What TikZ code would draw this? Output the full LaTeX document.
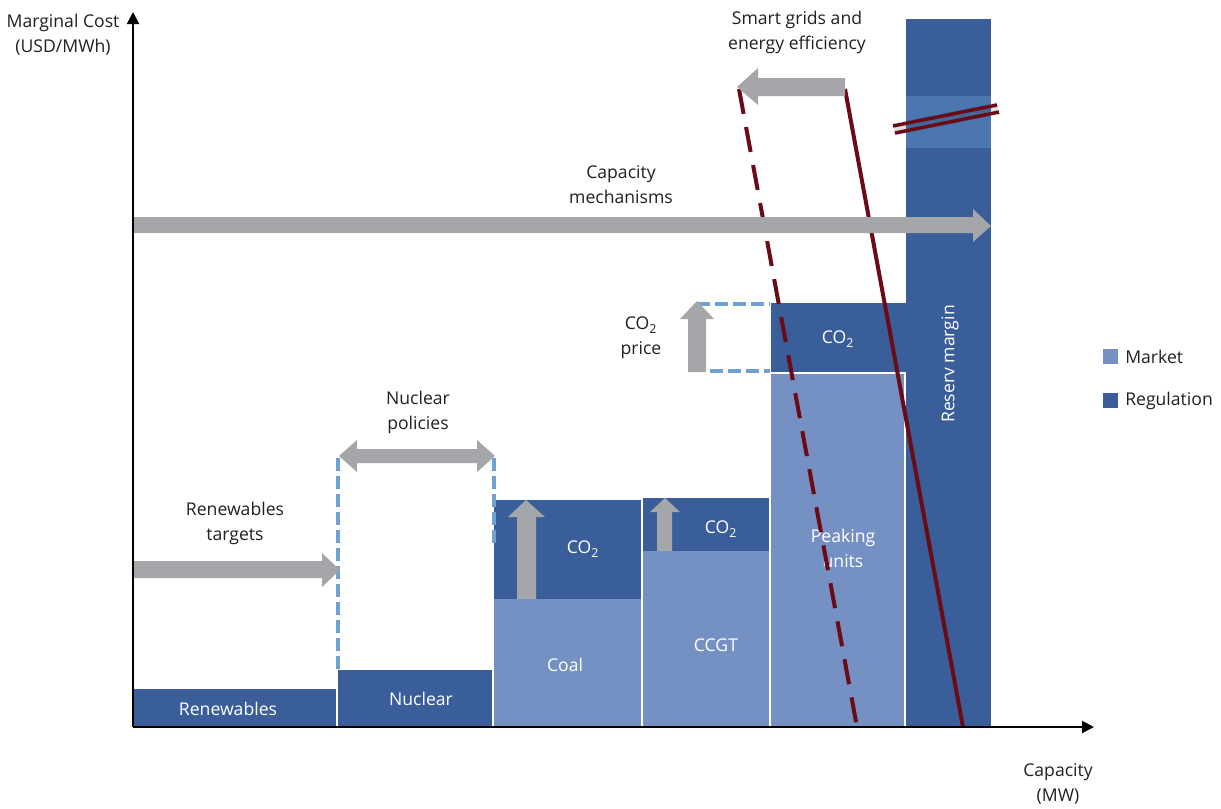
\documentclass[tikz,border=0pt]{standalone}
\usepackage{fontspec}
\setmainfont{Open Sans}
\usetikzlibrary{arrows.meta}
\definecolor{reg}{HTML}{3A5E99}
\definecolor{mkt}{HTML}{7591C3}
\definecolor{band}{HTML}{4B77AE}
\definecolor{garrow}{HTML}{A5A6A9}
\definecolor{bluedash}{HTML}{6FA2D2}
\definecolor{wine}{HTML}{6B0B16}
\definecolor{txt}{HTML}{231F20}
\newcommand{\cotwo}{CO\textsubscript{2}}
\begin{document}
\begin{tikzpicture}[x=0.75pt,y=-0.75pt,
  font=\fontsize{13.2}{18.75}\selectfont,
  label/.style={text=txt,align=center,inner sep=0pt},
  inlabel/.style={text=white,align=center,inner sep=0pt},
  regblock/.style={fill=reg},
  mktblock/.style={fill=mkt},
  grey/.style={fill=garrow},
  bluedashed/.style={draw=bluedash,line width=3pt,dash pattern=on 9.5pt off 4pt},
  winesolid/.style={draw=wine,line width=3pt},
  winedashed/.style={draw=wine,line width=3pt,dash pattern=on 19pt off 10pt},
  axis/.style={draw=black,line width=1.5pt,-{Triangle[length=9pt,width=9pt]}}
]
\useasboundingbox (0,0) rectangle (1221,808);

% ---- supply blocks ----
\fill[regblock] (133,689) rectangle (336,727);   % renewables
\fill[regblock] (338,670) rectangle (492,727);   % nuclear
\fill[mktblock] (494,599) rectangle (641,727);   % coal
\fill[regblock] (494,500) rectangle (641,599);   % coal CO2
\fill[mktblock] (643,551) rectangle (769,727);   % CCGT
\fill[regblock] (643,498) rectangle (769,551);   % CCGT CO2
\fill[mktblock] (771,374) rectangle (904,727);   % peaking
\fill[regblock] (771,303) rectangle (906,372);   % peaking CO2
\fill[regblock] (906,19) rectangle (991,727);    % reserve margin
\fill[band] (906,96) rectangle (991,148);

\node[inlabel] (ren) at (228,709) {Renewables};
\node[inlabel] (nuc) at (421,699) {Nuclear};
\node[inlabel] (coal) at (565,665) {Coal};
\node[inlabel] (coalco) at (583,549) {\cotwo};
\node[inlabel] (ccgt) at (716,645) {CCGT};
\node[inlabel] (ccgtco) at (721,529) {\cotwo};
\node[inlabel] (peak) at (843,548) {Peaking\\units};
\node[inlabel] (peakco) at (838,339) {\cotwo};
\node[inlabel,rotate=90] (res) at (950,364) {Reserv margin};

% ---- dashed outlines ----
\coordinate (nl1) at (338,458); \coordinate (nl2) at (338,670);
\coordinate (nr1) at (494,458); \coordinate (nr2) at (494,548);
\draw[bluedashed] (nl1) -- (nl2);
\draw[bluedashed] (nr1) -- (nr2);
\coordinate (ct1) at (697,304); \coordinate (ct2) at (770,304);
\coordinate (cb1) at (710,371); \coordinate (cb2) at (770,371);
\draw[bluedashed] (ct1) -- (ct2);
\draw[bluedashed] (cb1) -- (cb2);

% ---- demand lines ----
\coordinate (d1) at (739,89); \coordinate (d2) at (857,727);
\coordinate (s1) at (845,89); \coordinate (s2) at (963,727);
\draw[winedashed] (d1) -- (d2);
\draw[winesolid] (s1) -- (s2);
% break marks
\coordinate (b1) at (893,126); \coordinate (b2) at (997,105);
\coordinate (b3) at (895,133); \coordinate (b4) at (999,112);
\draw[draw=black,opacity=0.12,line width=9pt] (894,129.5) -- (998,108.5);
\draw[winesolid,line width=2.6pt] (b1) -- (b2);
\draw[winesolid,line width=2.6pt] (b3) -- (b4);

% ---- grey block arrows ----
% renewables targets
\fill[grey] (133,561) -- (322,561) -- (322,553) -- (340,570) -- (322,587) -- (322,578) -- (133,578) -- cycle;
% nuclear policies
\fill[grey] (339,456) -- (357,440) -- (357,449) -- (477,449) -- (477,440) -- (495,456) -- (477,472) -- (477,463) -- (357,463) -- (357,472) -- cycle;
% coal CO2
\fill[grey] (517,599) -- (517,517) -- (508,517) -- (526,500) -- (545,517) -- (536,517) -- (536,599) -- cycle;
% CCGT CO2
\fill[grey] (657,551) -- (657,512) -- (650,512) -- (665,498) -- (680,512) -- (672,512) -- (672,551) -- cycle;
% CO2 price
\fill[grey] (688,372) -- (688,319) -- (680,319) -- (697,301) -- (714,319) -- (706,319) -- (706,372) -- cycle;
% capacity mechanisms
\fill[grey] (133,217) -- (973,217) -- (973,209) -- (991,226) -- (973,242) -- (973,233) -- (133,233) -- cycle;
% smart grids
\fill[grey] (845,78) -- (758,78) -- (758,68) -- (737,87) -- (758,105) -- (758,96) -- (845,96) -- cycle;

% ---- axes ----
\coordinate (o) at (133,727);
\coordinate (ytop) at (133,12);
\coordinate (xend) at (1094,727);
\draw[axis] (o) -- (ytop);
\draw[axis] (o) -- (xend);

% ---- labels ----
\node[label] (ylab) at (63,35) {Marginal Cost\\(USD/MWh)};
\node[label] (xlab) at (1058,784) {Capacity\\(MW)};
\node[label] (smart) at (797,32) {Smart grids and\\energy efficiency};
\node[label] (capm) at (621,185) {Capacity\\mechanisms};
\node[label] (co2p) at (641,338) {\cotwo\\price};
\node[label] (nucp) at (418,412) {Nuclear\\policies};
\node[label] (rent) at (235,523) {Renewables\\targets};

% ---- legend ----
\fill[mktblock] (1103,349) rectangle (1118,364);
\fill[regblock] (1103,393) rectangle (1118,408);
\node[label,anchor=west] (lm) at (1125,357) {Market};
\node[label,anchor=west] (lr) at (1125,401) {Regulation};
\end{tikzpicture}
\end{document}
